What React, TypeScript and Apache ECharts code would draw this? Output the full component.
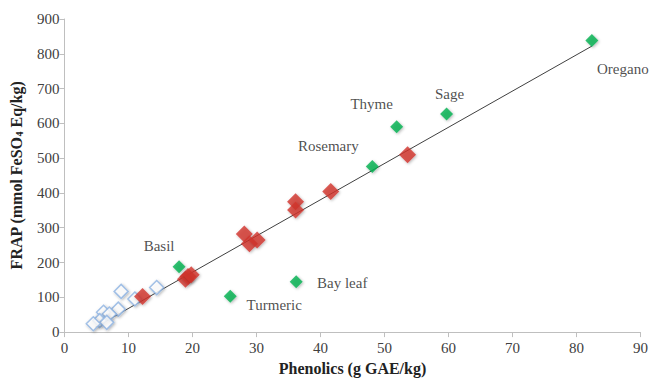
import React, { useEffect, useRef } from "react";
import * as echarts from "echarts";

const herbNames = ["Oregano", "Sage", "Thyme", "Rosemary", "Basil", "Bay leaf", "Turmeric"];
const herbPhenolics = [82.4, 59.7, 51.9, 48.1, 17.9, 36.2, 25.9];
const herbFrap = [838, 627, 590, 476, 188, 145, 103];

const redPhenolics = [53.6, 41.6, 36.1, 36.1, 28.1, 28.9, 30.1, 18.9, 19.3, 19.8, 12.2];
const redFrap = [510, 404, 375, 351, 282, 254, 265, 152, 160, 165, 102];

const openPhenolics = [14.4, 8.85, 11.0, 8.4, 6.1, 7.0, 5.5, 6.6, 4.5];
const openFrap = [128, 117, 95, 66, 57, 52, 33, 28, 24];

const trendX = [4.8, 82.4];
const trendY = [14, 822];

const xTicks = { min: 0, max: 90, interval: 10 };
const yTicks = { min: 0, max: 900, interval: 100 };

const labelOffsets: Record<string, [number, number]> = {
  Oregano: [31, 28],
  Sage: [3, -20],
  Thyme: [-25, -23],
  Rosemary: [-44, -21],
  Basil: [-20, -21],
  "Bay leaf": [46, 1],
  Turmeric: [44, 9],
};

export default function App() {
  const ref = useRef<HTMLDivElement>(null);
  useEffect(() => {
    if (!ref.current) return;
    const chart = echarts.init(ref.current, null, { renderer: "svg" });
    const font = "'Liberation Serif', 'Times New Roman', serif";
    const shadow = {
      shadowBlur: 3,
      shadowColor: "rgba(0,0,0,0.35)",
      shadowOffsetX: 1,
      shadowOffsetY: 1,
    };
    chart.setOption({
      animation: false,
      backgroundColor: "#ffffff",
      grid: { left: 64, right: 7.5, top: 19, bottom: 46 },
      xAxis: {
        type: "value",
        min: xTicks.min,
        max: xTicks.max,
        interval: xTicks.interval,
        name: "Phenolics (g GAE/kg)",
        nameLocation: "middle",
        nameGap: 24,
        nameTextStyle: { fontFamily: font, fontSize: 16, fontWeight: "bold", color: "#222" },
        axisLine: { lineStyle: { color: "#bfbfbf", width: 1 } },
        axisTick: { show: true, length: 5, lineStyle: { color: "#bfbfbf" } },
        axisLabel: { fontFamily: font, fontSize: 15, color: "#404040", margin: 8 },
        splitLine: { show: false },
      },
      yAxis: {
        type: "value",
        min: yTicks.min,
        max: yTicks.max,
        interval: yTicks.interval,
        name: "{a|FRAP (mmol FeSO}{s|4}{a| Eq/kg)}",
        nameLocation: "middle",
        nameRotate: 90,
        nameGap: 40,
        nameTextStyle: {
          rich: {
            a: { fontFamily: font, fontSize: 16, fontWeight: "bold", color: "#222" },
            s: { fontFamily: font, fontSize: 10, fontWeight: "bold", color: "#222", verticalAlign: "bottom", padding: [7, 0, 0, 0] },
          },
        },
        axisLine: { show: true, lineStyle: { color: "#bfbfbf", width: 1 } },
        axisTick: { show: true, length: 5, lineStyle: { color: "#bfbfbf" } },
        axisLabel: { fontFamily: font, fontSize: 15, color: "#404040", margin: 5 },
        splitLine: { show: false },
      },
      series: [
        {
          type: "line",
          data: trendX.map((x, i) => [x, trendY[i]]),
          symbol: "none",
          lineStyle: { color: "#404040", width: 1 },
          z: 1,
        },
        {
          type: "scatter",
          data: openPhenolics.map((x, i) => [x, openFrap[i]]),
          symbol: "diamond",
          symbolSize: [14, 14],
          itemStyle: { color: "#ffffff", borderColor: "#8db3e2", borderWidth: 1.5, ...shadow },
          z: 2,
        },
        {
          type: "scatter",
          data: redPhenolics.map((x, i) => [x, redFrap[i]]),
          symbol: "diamond",
          symbolSize: [17, 17],
          itemStyle: { color: "#d2322d", ...shadow },
          z: 3,
        },
        {
          type: "scatter",
          data: herbPhenolics.map((x, i) => ({
            value: [x, herbFrap[i]],
            name: herbNames[i],
            label: {
              show: true,
              position: "inside",
              offset: labelOffsets[herbNames[i]],
              formatter: herbNames[i],
              fontFamily: font,
              fontSize: 15,
              color: "#222",
            },
          })),
          symbol: "diamond",
          symbolSize: [13, 13],
          itemStyle: { color: "#00b050", ...shadow },
          z: 4,
        },
      ],
    });
    return () => chart.dispose();
  }, []);
  return <div ref={ref} style={{ width: 651, height: 381, position: "absolute", left: 0, top: 0 }} />;
}
